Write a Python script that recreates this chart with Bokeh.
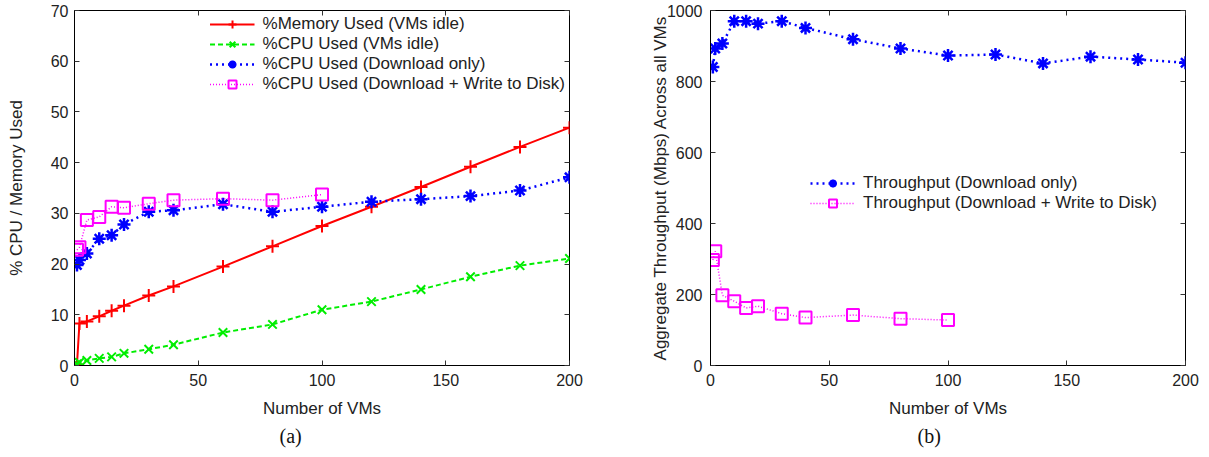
from bokeh.plotting import figure
from bokeh.models import (LinearAxis, FixedTicker, Legend, LegendItem, Title, Range1d,
                          CustomLabelingPolicy)
from bokeh.layouts import row
from bokeh.embed import file_html
from bokeh.resources import INLINE

# ---------------- data ----------------
vms = [1, 2, 5, 10, 15, 20, 30, 40, 60, 80, 100, 120, 140, 160, 180, 200]
mem_idle = [0.2, 8.3, 8.7, 9.7, 10.8, 11.8, 13.8, 15.6, 19.5, 23.5, 27.5, 31.3, 35.2, 39.2, 43.1, 46.9]
cpu_idle = [0.3, 0.6, 1.0, 1.4, 1.7, 2.4, 3.2, 4.1, 6.5, 8.1, 11.0, 12.6, 15.0, 17.5, 19.7, 21.1]
cpu_dl = [19.8, 20.8, 22.1, 25.0, 25.7, 27.8, 30.3, 30.6, 31.8, 30.3, 31.3, 32.3, 32.8, 33.4, 34.5, 37.1]
vms_disk = [1, 2, 5, 10, 15, 20, 30, 40, 60, 80, 100]
cpu_disk = [22.8, 23.3, 28.7, 29.3, 31.3, 31.1, 31.9, 32.6, 32.9, 32.6, 33.7]

thr_dl = [841, 893, 907, 970, 970, 963, 970, 951, 919, 893, 873, 876, 851, 870, 862, 853]
thr_disk = [297, 322, 198, 181, 162, 167, 146, 135, 142, 132, 128]

x_ticks = [0, 50, 100, 150, 200]
y_ticks_a = [0, 10, 20, 30, 40, 50, 60, 70]
y_ticks_b = [0, 200, 400, 600, 800, 1000]

labels_a = ["%Memory Used (VMs idle)", "%CPU Used (VMs idle)",
            "%CPU Used (Download only)", "%CPU Used (Download + Write to Disk)"]
labels_b = ["Throughput (Download only)", "Throughput (Download + Write to Disk)"]

FONT = "Liberation Sans"
SERIF = "Liberation Serif"


def mirror_axis(ticks):
    return LinearAxis(ticker=FixedTicker(ticks=ticks), major_label_text_font_size="1px",
                      major_label_policy=CustomLabelingPolicy(code="return new Set()"),
                      major_label_standoff=0, major_tick_in=5, major_tick_out=0,
                      minor_tick_in=0, minor_tick_out=0, axis_line_color=None,
                      major_tick_line_color="#333333")


def make_fig(ymax, yticks, ylabel, caption, cap_offset, left_border, right_border, fw,
             ylabel_standoff, tick_standoff):
    p = figure(frame_width=fw, frame_height=355, output_backend="svg", toolbar_location=None,
               x_range=Range1d(0, 200), y_range=Range1d(0, ymax),
               min_border_left=left_border, min_border_right=right_border,
               min_border_top=10, min_border_bottom=82)
    p.xgrid.visible = False
    p.ygrid.visible = False
    p.outline_line_color = "black"
    p.outline_line_width = 1
    p.background_fill_color = "white"
    p.border_fill_color = "white"
    p.xaxis.ticker = FixedTicker(ticks=x_ticks)
    p.yaxis.ticker = FixedTicker(ticks=yticks)
    p.xaxis.axis_label = "Number of VMs"
    p.yaxis.axis_label = ylabel
    for ax in p.xaxis + p.yaxis:
        ax.major_tick_in = 5
        ax.major_tick_out = 0
        ax.minor_tick_in = 0
        ax.minor_tick_out = 0
        ax.axis_line_color = "black"
        ax.major_tick_line_color = "#333333"
        ax.major_label_text_font = FONT
        ax.major_label_text_font_size = "16px"
        ax.major_label_text_color = "#222222"
        ax.axis_label_text_font = FONT
        ax.axis_label_text_font_size = "17px"
        ax.axis_label_text_font_style = "normal"
        ax.axis_label_text_color = "#222222"
    p.xaxis.major_label_standoff = 8
    p.xaxis.axis_label_standoff = 10
    p.yaxis.major_label_standoff = tick_standoff
    p.yaxis.axis_label_standoff = ylabel_standoff
    p.add_layout(mirror_axis(x_ticks), "above")
    p.add_layout(mirror_axis(yticks), "right")
    t = Title(text=caption, align="left", text_font=SERIF, text_font_size="20px",
              text_font_style="normal", text_color="#111111", offset=cap_offset, standoff=5)
    p.add_layout(t, "below")
    return p


# ---------------- panel (a) ----------------
pa = make_fig(70, y_ticks_a, "% CPU / Memory Used", "(a)", 205, 74, 71, 495, 22, 6)

r1l = pa.line(vms, mem_idle, line_color="#ff0000", line_width=2)
r1m = pa.scatter(vms, mem_idle, marker="cross", size=13, line_color="#ff0000", line_width=2)
r2l = pa.line(vms, cpu_idle, line_color="#00ee00", line_width=2, line_dash="5 3")
r2m = pa.scatter(vms, cpu_idle, marker="x", size=12, line_color="#00ee00", line_width=2)
r3l = pa.line(vms, cpu_dl, line_color="#0000ff", line_width=2.5, line_dash="2 4")
r3m = pa.scatter(vms, cpu_dl, marker="asterisk", size=13, line_color="#0000ff", line_width=2.5)
r4l = pa.line(vms_disk, cpu_disk, line_color="#ff00ff", line_width=1.5, line_dash="1 2")
r4m = pa.scatter(vms_disk, cpu_disk, marker="square", size=12, line_color="#ff00ff",
                 fill_color=None, line_width=2)

leg_kw = dict(border_line_color=None, background_fill_alpha=0,
              label_text_font=FONT, label_text_font_size="17px", label_text_color="#222222",
              glyph_width=45, glyph_height=20, label_height=17, spacing=0, padding=2,
              label_standoff=8)

leg_a = Legend(items=[LegendItem(label=labels_a[0], renderers=[r1l, r1m]),
                      LegendItem(label=labels_a[1], renderers=[r2l, r2m]),
                      LegendItem(label=labels_a[2], renderers=[r3l, r3m]),
                      LegendItem(label=labels_a[3], renderers=[r4l, r4m])],
               location="top_right", margin=4, **leg_kw)
pa.add_layout(leg_a)

# ---------------- panel (b) ----------------
pb = make_fig(1000, y_ticks_b, "Aggregate Throughput (Mbps) Across all VMs", "(b)", 207, 70, 14,
              475, -6, 8)

b1l = pb.line(vms, thr_dl, line_color="#0000ff", line_width=2.5, line_dash="2 4")
b1m = pb.scatter(vms, thr_dl, marker="asterisk", size=13, line_color="#0000ff", line_width=2.5)
b2l = pb.line(vms_disk, thr_disk, line_color="#ff00ff", line_width=1.5, line_dash="1 2")
b2m = pb.scatter(vms_disk, thr_disk, marker="square", size=12, line_color="#ff00ff",
                 fill_color=None, line_width=2)

leg_b = Legend(items=[LegendItem(label=labels_b[0], renderers=[b1l, b1m]),
                      LegendItem(label=labels_b[1], renderers=[b2l, b2m])],
               location=(100, 152), margin=0, **leg_kw)
pb.add_layout(leg_b)

layout = row(pa, pb)
open("out.html", "w").write(file_html(layout, INLINE))
